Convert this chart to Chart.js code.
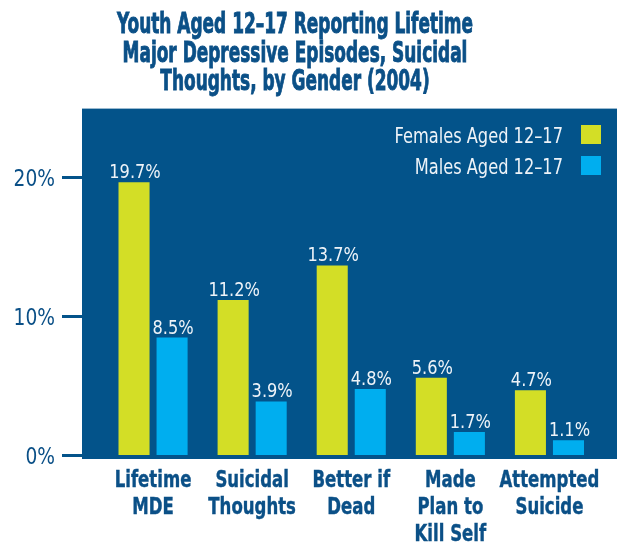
<!DOCTYPE html>
<html>
<head>
<meta charset="utf-8">
<script src="https://cdn.jsdelivr.net/npm/chart.js@4.4.1/dist/chart.umd.min.js"></script>
<style>
  html, body { margin: 0; padding: 0; background: #fff; }
</style>
</head>
<body>
<canvas id="depression-chart" width="617" height="542"></canvas>
<script>
// Youth 12-17 lifetime MDE / suicidal thoughts by gender (2004)

const categories = [
  ['Lifetime', 'MDE'],
  ['Suicidal', 'Thoughts'],
  ['Better if', 'Dead'],
  ['Made', 'Plan to', 'Kill Self'],
  ['Attempted', 'Suicide']
]
const femaleValues = [19.7, 11.2, 13.7, 5.6, 4.7]
const maleValues = [8.5, 3.9, 4.8, 1.7, 1.1]
const seriesNames = ['Females Aged 12–17', 'Males Aged 12–17']
const yTicks = [0, 10, 20]
const titleLines = [
  'Youth Aged 12–17 Reporting Lifetime',
  'Major Depressive Episodes, Suicidal',
  'Thoughts, by Gender (2004)'
]

const FONT = "'DejaVu Sans Condensed', 'Liberation Sans Narrow', Roboto, sans-serif"
const COLORS = {
  panel: '#03538a',
  text: '#0b5087',
  female: '#d3de26',
  male: '#00aeef',
  light: '#eef3f8'
}

// the original uses a very narrow face, so squeeze text horizontally
function narrowText(ctx, text, x, y, sx, align, stroke) {
  ctx.save()
  ctx.translate(x, y)
  ctx.scale(sx, 1)
  ctx.textAlign = align
  ctx.textBaseline = 'alphabetic'
  ctx.fillText(text, 0, 0)
  if (stroke) {
    ctx.strokeStyle = ctx.fillStyle
    ctx.lineWidth = stroke
    ctx.strokeText(text, 0, 0)
  }
  ctx.restore()
}

const panelBg = {
  id: 'panelBg',
  beforeDraw(chart) {
    const { ctx, chartArea } = chart
    ctx.save()
    ctx.fillStyle = COLORS.panel
    ctx.fillRect(82, chartArea.top, chart.width - 82, chartArea.bottom - chartArea.top + 3.5)
    ctx.restore()
  }
}

const titleText = {
  id: 'titleText',
  afterDraw(chart) {
    const { ctx } = chart
    ctx.save()
    ctx.fillStyle = COLORS.text
    ctx.font = `bold 29px ${FONT}`
    titleLines.forEach((line, i) => narrowText(ctx, line, 295, 33 + i * 28.5, 0.65, 'center', 0.9))
    ctx.restore()
  }
}

const axisLabels = {
  id: 'axisLabels',
  afterDraw(chart) {
    const { ctx, chartArea } = chart
    const xScale = chart.scales.x
    const yScale = chart.scales.y
    ctx.save()
    ctx.fillStyle = COLORS.text
    ctx.font = `bold 23px ${FONT}`
    categories.forEach((lines, i) => {
      const x = xScale.getPixelForValue(i)
      lines.forEach((line, k) => narrowText(ctx, line, x, chartArea.bottom + 31 + k * 27, 0.8, 'center', 0.4))
    })
    ctx.font = `23px ${FONT}`
    yTicks.forEach((v) => {
      narrowText(ctx, v + '%', 55, yScale.getPixelForValue(v) + 8.5, 0.9, 'right')
    })
    ctx.restore()
  }
}

const valueLabels = {
  id: 'valueLabels',
  afterDatasetsDraw(chart) {
    const { ctx } = chart
    ctx.save()
    ctx.fillStyle = COLORS.light
    ctx.font = `20px ${FONT}`
    chart.data.datasets.forEach((ds, i) => {
      chart.getDatasetMeta(i).data.forEach((bar, j) => {
        narrowText(ctx, ds.data[j].toFixed(1) + '%', bar.x + 1, bar.y - 4, 0.9, 'center')
      })
    })
    ctx.restore()
  }
}

const panelLegend = {
  id: 'panelLegend',
  afterDraw(chart) {
    const { ctx } = chart
    ctx.save()
    ctx.font = `20.5px ${FONT}`
    chart.data.datasets.forEach((ds, i) => {
      const y = 125 + i * 31
      ctx.fillStyle = COLORS.light
      narrowText(ctx, ds.label, 563, y + 18, 0.88, 'right')
      ctx.fillStyle = ds.backgroundColor
      ctx.fillRect(581, y, 20, 19)
    })
    ctx.restore()
  }
}

new Chart(document.getElementById('depression-chart'), {
  type: 'bar',
  data: {
    labels: categories,
    datasets: [
      { label: seriesNames[0], data: femaleValues, backgroundColor: COLORS.female },
      { label: seriesNames[1], data: maleValues, backgroundColor: COLORS.male }
    ]
  },
  options: {
    responsive: false,
    animation: false,
    categoryPercentage: 0.768,
    barPercentage: 0.816,
    layout: { padding: { left: 0, right: 18, top: 108.6, bottom: 0 } },
    scales: {
      x: {
        grid: { display: false },
        border: { display: false },
        afterFit: (s) => { s.height = 86.5 },
        ticks: { display: false, autoSkip: false }
      },
      y: {
        min: 0,
        max: 25,
        afterFit: (s) => { s.width = 103.5 },
        afterBuildTicks: (s) => { s.ticks = yTicks.map(v => ({ value: v })) },
        border: { display: false },
        grid: {
          drawOnChartArea: false,
          drawTicks: true,
          tickLength: 41.5,
          tickWidth: 3,
          tickColor: COLORS.panel
        },
        ticks: { display: false }
      }
    },
    plugins: {
      legend: { display: false },
      tooltip: { enabled: false },
      title: { display: false }
    }
  },
  plugins: [panelBg, valueLabels, titleText, axisLabels, panelLegend]
})
</script>
</body>
</html>
